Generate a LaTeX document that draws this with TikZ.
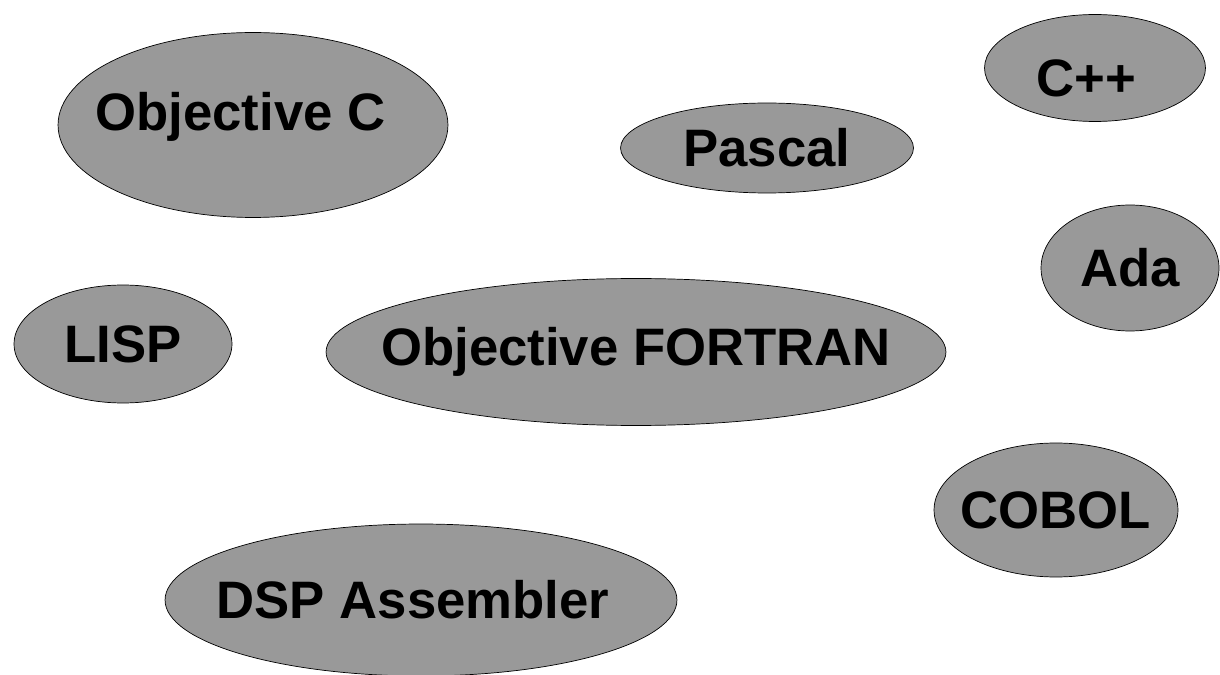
\documentclass[tikz,border=0pt]{standalone}
\usepackage{fontspec}
\setmainfont{Liberation Sans}
\usetikzlibrary{shapes.geometric}

\tikzset{
    lang/.style = {ellipse, draw = black, fill = black!40, inner sep = 0pt},
    langname/.style = {font = \bfseries\fontsize{30}{33}\selectfont}
}

\begin{document}
\begin{tikzpicture}[x=0.02cm, y=-0.02cm]

    \useasboundingbox (0,0) rectangle (1220,675);

    \node[lang,
          minimum width = 7.8cm,
          minimum height = 3.7cm
          ] (objc) at (253,125) {};
    \node[langname] at ([xshift=-0.25cm, yshift=0.16cm]objc.center) {Objective C};

    \node[lang,
          minimum width = 5.86cm,
          minimum height = 1.8cm
          ] (pascal) at (767,148) {};
    \node[langname] at (pascal.center) {Pascal};

    \node[lang,
          minimum width = 4.42cm,
          minimum height = 2.14cm
          ] (cpp) at (1095,68) {};
    \node[langname] at ([xshift=-0.18cm, yshift=-0.2cm]cpp.center) {C++};

    \node[lang,
          minimum width = 3.56cm,
          minimum height = 2.52cm
          ] (ada) at (1130,268) {};
    \node[langname] at (ada.center) {Ada};

    \node[lang,
          minimum width = 4.36cm,
          minimum height = 2.36cm
          ] (lisp) at (123,344) {};
    \node[langname] at (lisp.center) {LISP};

    \node[lang,
          minimum width = 12.4cm,
          minimum height = 2.94cm
          ] (fortran) at (636,352) {};
    \node[langname] at (fortran.center) {Objective FORTRAN};

    \node[lang,
          minimum width = 4.88cm,
          minimum height = 2.68cm
          ] (cobol) at (1056,510) {};
    \node[langname] at (cobol.center) {COBOL};

    \node[lang,
          minimum width = 10.24cm,
          minimum height = 3.04cm
          ] (dsp) at (421,600) {};
    \node[langname] at ([xshift=-0.16cm]dsp.center) {DSP Assembler};

\end{tikzpicture}
\end{document}
